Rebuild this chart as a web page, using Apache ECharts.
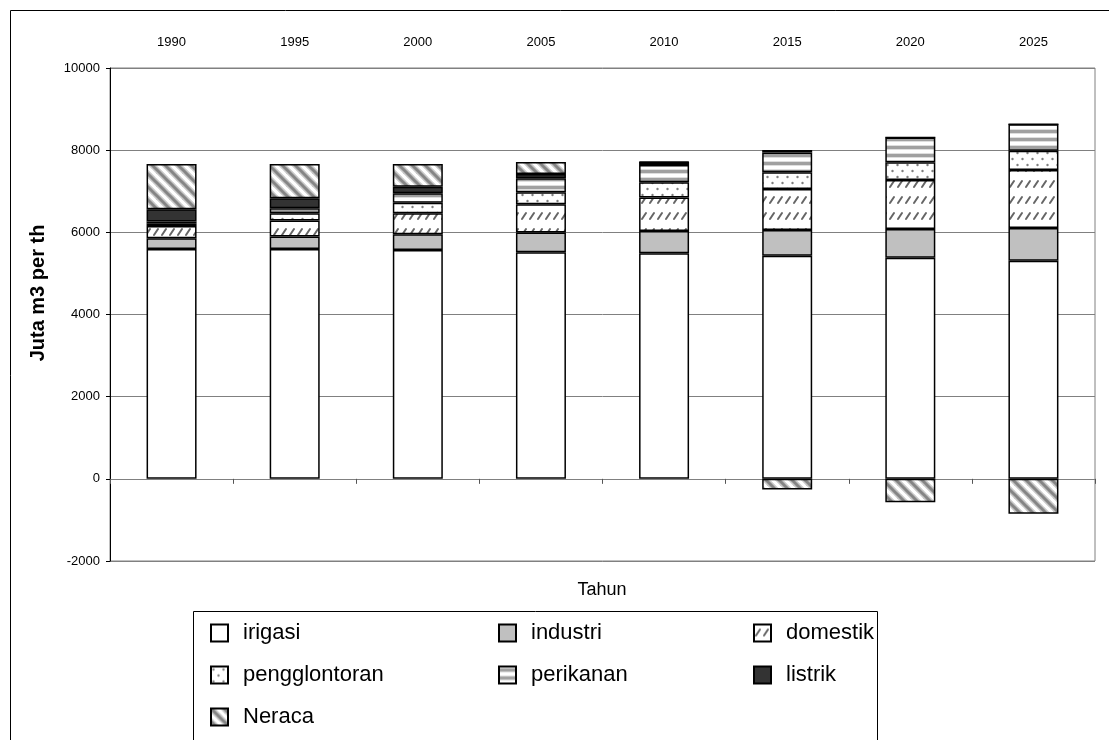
<!DOCTYPE html>
<html><head><meta charset="utf-8">
<script src="https://cdn.jsdelivr.net/npm/echarts@6/dist/echarts.min.js"></script>
<style>html,body{margin:0;padding:0;background:#fff}#c{width:1109px;height:740px}</style>
</head><body><div id="c"></div>
<script>
const years = ['1990','1995','2000','2005','2010','2015','2020','2025'];
const irigasi = [5596, 5596, 5572, 5516, 5491, 5433, 5384, 5311];
const industri = [260, 300, 381, 477, 543, 625, 700, 796];
const domestik = [300, 390, 511, 690, 811, 998, 1192, 1411];
const pengglontoran = [50, 180, 259, 292, 374, 406, 430, 470];
const perikanan = [55, 122, 228, 341, 421, 480, 600, 640];
const listrik = [300, 243, 161, 105, 70, 60, 0, 0];
const neraca = [1100, 835, 552, 292, 10, -260, -570, -850];
const yTicks = {min: -2000, max: 10000, interval: 2000};

function pat(w, h, fn) {
  const c = document.createElement('canvas');
  c.width = w; c.height = h;
  const g = c.getContext('2d');
  g.fillStyle = '#fff'; g.fillRect(0, 0, w, h);
  fn(g, w, h);
  return {image: c, repeat: 'repeat'};
}
const pDomestik = pat(8, 16, g => {
  g.strokeStyle = '#666'; g.lineWidth = 2; g.lineCap = 'round';
  g.beginPath(); g.moveTo(2, 11); g.lineTo(6, 5); g.stroke();
});
const pDots = pat(10, 12, g => {
  g.fillStyle = '#808080';
  g.beginPath(); g.arc(2.5, 3, 1.2, 0, Math.PI * 2); g.fill();
  g.beginPath(); g.arc(7.5, 9, 1.2, 0, Math.PI * 2); g.fill();
});
const pPerikanan = pat(8, 8, g => {
  g.fillStyle = '#dedede'; g.fillRect(0, 1, 8, 1); g.fillRect(0, 5, 8, 1);
  g.fillStyle = '#a0a0a0'; g.fillRect(0, 2, 8, 3);
});
const pNeraca = pat(13, 13, g => {
  const lines = (lw, col) => {
    g.strokeStyle = col; g.lineWidth = lw;
    for (let k = -13; k <= 13; k += 13) {
      g.beginPath(); g.moveTo(k - 2, -2); g.lineTo(k + 15, 15); g.stroke();
    }
  };
  lines(6, '#c8c8c8');
  lines(3, '#858585');
});

const names = ['irigasi','industri','domestik','pengglontoran','perikanan','listrik','Neraca'];
const datas = [irigasi, industri, domestik, pengglontoran, perikanan, listrik, neraca];
const fills = ['#ffffff', '#c0c0c0', pDomestik, pDots, pPerikanan, '#333333', pNeraca];

const series = names.map((n, i) => ({
  name: n, type: 'bar', stack: 'total', xAxisIndex: 0, barWidth: 50,
  data: datas[i],
  itemStyle: {color: fills[i], borderColor: '#000', borderWidth: 1.5},
  emphasis: {disabled: true}, animation: false
}));

const font = 'Liberation Sans, Arial, sans-serif';
const legendBase = {
  orient: 'vertical', itemWidth: 17, itemHeight: 17, itemGap: 20, icon: 'rect',
  textStyle: {fontSize: 22, color: '#000', fontFamily: font, padding: [0, 0, 0, 10]},
  top: 617, selectedMode: false
};

const chart = echarts.init(document.getElementById('c'), null, {renderer: 'canvas'});
chart.setOption({
  animation: false,
  backgroundColor: '#fff',
  grid: {left: 110, top: 68, right: 14, bottom: 179, show: true, borderColor: '#808080', borderWidth: 1, containLabel: false},
  xAxis: [
    {type: 'category', data: years, position: 'top', axisLine: {show: false, onZero: false},
     axisTick: {show: false}, axisLabel: {margin: 19, fontSize: 13, color: '#000', fontFamily: font}},
    {type: 'category', data: years, position: 'bottom',
     axisLine: {show: true, onZero: true, lineStyle: {color: '#808080', width: 1}},
     axisTick: {show: true, length: 5, lineStyle: {color: '#555'}}, axisLabel: {show: false}}
  ],
  yAxis: {type: 'value', min: yTicks.min, max: yTicks.max, interval: yTicks.interval,
    axisLine: {show: true, lineStyle: {color: '#000', width: 1}},
    axisTick: {show: true, length: 4, lineStyle: {color: '#000'}},
    axisLabel: {margin: 10, fontSize: 13, color: '#000', fontFamily: font, formatter: v => String(v)},
    splitLine: {show: true, lineStyle: {color: '#808080', width: 1}}},
  legend: [
    Object.assign({}, legendBase, {left: 205, data: ['irigasi', 'pengglontoran', 'Neraca']}),
    Object.assign({}, legendBase, {left: 493, data: ['industri', 'perikanan']}),
    Object.assign({}, legendBase, {left: 748, data: ['domestik', 'listrik']})
  ],
  graphic: [
    {type: 'rect', shape: {x: 10.5, y: 10.5, width: 1200, height: 800}, style: {fill: 'none', stroke: '#000', lineWidth: 1}, silent: true, z: -10},
    {type: 'rect', shape: {x: 193.5, y: 611.5, width: 684, height: 200}, style: {fill: 'none', stroke: '#000', lineWidth: 1}, silent: true},
    {type: 'text', x: 602, y: 590, style: {text: 'Tahun', fontSize: 18, fontFamily: font, fill: '#000', textAlign: 'center', textVerticalAlign: 'middle'}},
    {type: 'text', x: 38, y: 293, rotation: Math.PI / 2, style: {text: 'Juta m3 per th', fontSize: 20, fontWeight: 'bold', fontFamily: font, fill: '#000', textAlign: 'center', textVerticalAlign: 'middle'}}
  ],
  series: series
});
</script>
</body></html>
